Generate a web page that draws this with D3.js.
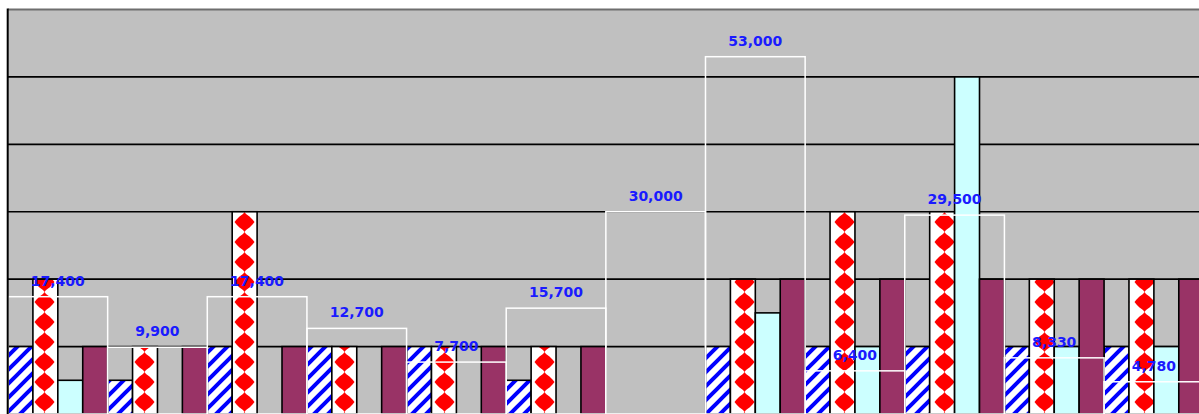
<!DOCTYPE html>
<html>
<head>
<meta charset="utf-8">
<script src="https://cdn.jsdelivr.net/npm/d3@7"></script>
<style>
    body { margin: 0; background: #ffffff; }
    svg { display: block; }
</style>
</head>
<body>
<div id="chart"></div>
<script>
const categories = ["A", "B", "C", "D", "E", "F", "G", "H", "I", "J", "K", "L"];
const seriesNames = ["s1", "s2", "s3", "s4"];
const s1 = [10000, 5000, 10000, 10000, 10000, 5000, 0, 10000, 10000, 10000, 10000, 10000];
const s2 = [20000, 10000, 30000, 10000, 10000, 10000, 0, 20000, 30000, 30000, 20000, 20000];
const s3 = [5000, 0, 0, 0, 0, 0, 0, 15000, 10000, 50000, 10000, 10000];
const s4 = [10000, 10000, 10000, 10000, 10000, 10000, 0, 20000, 20000, 20000, 20000, 20000];
const totals = [17400, 9900, 17400, 12700, 7700, 15700, 30000, 53000, 6400, 29500, 8330, 4780];
const yTicks = [10000, 20000, 30000, 40000, 50000];

var width = 1199;
var height = 414;

var svg = d3.select("#chart")
    .append("svg")
    .attr("width", width)
    .attr("height", height);

var defs = svg.append("defs");

var stripes = defs.append("pattern")
    .attr("id", "stripes")
    .attr("patternUnits", "userSpaceOnUse")
    .attr("width", 14)
    .attr("height", 14);
stripes.append("rect").attr("width", 14).attr("height", 14).attr("fill", "#ffffff");
stripes.append("path")
    .attr("d", "M-7,7 L7,-7 M0,14 L14,0 M7,21 L21,7")
    .attr("stroke", "#0000ff")
    .attr("stroke-width", 4);

var diamonds = defs.append("pattern")
    .attr("id", "diamonds")
    .attr("patternUnits", "userSpaceOnUse")
    .attr("x", 7)
    .attr("y", -8)
    .attr("width", 25)
    .attr("height", 20);
diamonds.append("rect").attr("width", 25).attr("height", 20).attr("fill", "#ffffff");
diamonds.append("path")
    .attr("d", "M12.5,0 L14,2 L17.5,4.5 L20.5,7.5 L22.5,10 L20.5,12.5 L17.5,15.5 L14,18 L12.5,20 L11,18 L7.5,15.5 L4.5,12.5 L2.5,10 L4.5,7.5 L7.5,4.5 L11,2 Z")
    .attr("fill", "#ff0000");

var fills = ["url(#stripes)", "url(#diamonds)", "#ccffff", "#993366"];

var x = d3.scaleBand()
    .domain(categories)
    .range([8, 1203.7])
    .padding(0);

var xs = d3.scaleBand()
    .domain(seriesNames)
    .range([0, x.bandwidth()])
    .padding(0);

var y = d3.scaleLinear()
    .domain([0, 60000])
    .range([414, 9.5]);

svg.append("rect")
    .attr("x", x.range()[0])
    .attr("y", y(60000))
    .attr("width", x.range()[1] - x.range()[0])
    .attr("height", y(0) - y(60000))
    .attr("fill", "#c0c0c0");

svg.append("g")
    .selectAll("line")
    .data(yTicks)
    .enter().append("line")
    .attr("x1", x.range()[0])
    .attr("x2", x.range()[1])
    .attr("y1", d => y(d))
    .attr("y2", d => y(d))
    .attr("stroke", "#000000")
    .attr("stroke-width", 1.6);

svg.append("line")
    .attr("x1", x.range()[0])
    .attr("x2", x.range()[1])
    .attr("y1", y(60000))
    .attr("y2", y(60000))
    .attr("stroke", "#6e6e6e")
    .attr("stroke-width", 2);

var series = [s1, s2, s3, s4];
var barData = [];
series.forEach((vals, si) => {
    vals.forEach((v, ci) => {
        if (v > 0) barData.push({cat: categories[ci], s: seriesNames[si], i: si, v: v});
    });
});

svg.append("g")
    .selectAll("rect")
    .data(barData)
    .enter().append("rect")
    .attr("x", d => x(d.cat) + xs(d.s))
    .attr("y", d => y(d.v))
    .attr("width", xs.bandwidth())
    .attr("height", d => y(0) - y(d.v))
    .attr("fill", d => fills[d.i])
    .attr("stroke", "#000000")
    .attr("stroke-width", 1.6);

svg.append("g")
    .selectAll("rect")
    .data(totals)
    .enter().append("rect")
    .attr("x", (d, i) => x(categories[i]))
    .attr("y", d => y(d))
    .attr("width", x.bandwidth())
    .attr("height", d => y(0) - y(d))
    .attr("fill", "none")
    .attr("stroke", "#ffffff")
    .attr("stroke-width", 1.5);

svg.append("g")
    .selectAll("text")
    .data(totals)
    .enter().append("text")
    .attr("x", (d, i) => x(categories[i]) + x.bandwidth() / 2)
    .attr("y", d => y(d) - 11)
    .attr("text-anchor", "middle")
    .attr("font-family", "DejaVu Sans, sans-serif")
    .attr("font-weight", "bold")
    .attr("font-size", 14)
    .attr("fill", "#1a1aff")
    .text(d => d3.format(",")(d));

svg.append("line")
    .attr("x1", 7.7)
    .attr("x2", 7.7)
    .attr("y1", y(60000) - 1)
    .attr("y2", height)
    .attr("stroke", "#000000")
    .attr("stroke-width", 2);
</script>
</body>
</html>
